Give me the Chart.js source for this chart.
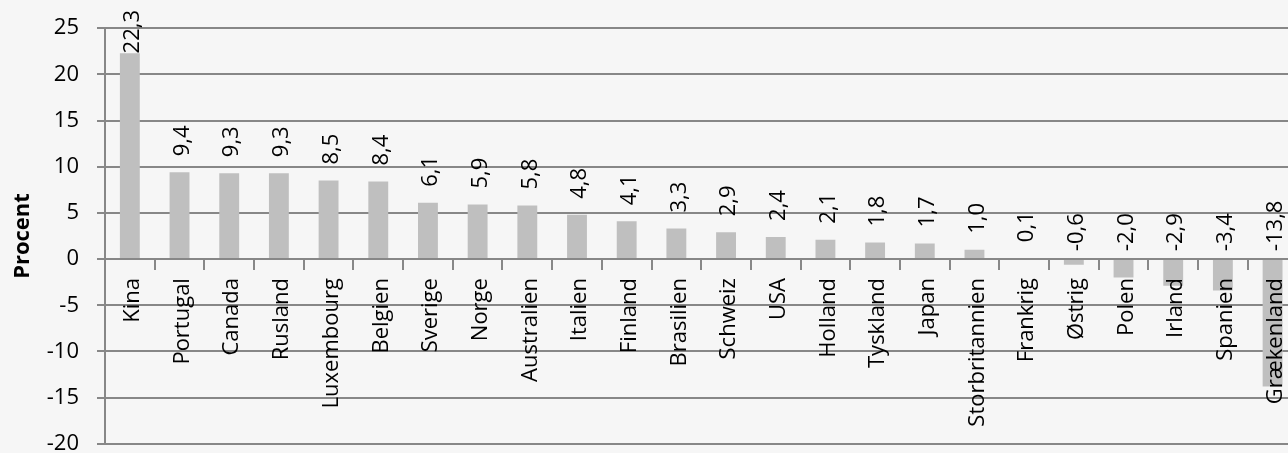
<!DOCTYPE html>
<html><head><meta charset="utf-8">
<script src="https://cdn.jsdelivr.net/npm/chart.js@4.4.0/dist/chart.umd.min.js"></script>
<style>
html,body{margin:0;padding:0;overflow:hidden;background:#f6f6f6;width:1288px;height:453px;}
#wrap{position:absolute;left:0;top:-3px;width:1308px;height:478px;}
</style></head><body>
<div id="wrap"><canvas id="c" width="1308" height="478" style="width:1308px;height:478px"></canvas></div>
<script>
const categories = ['Kina','Portugal','Canada','Rusland','Luxembourg','Belgien','Sverige','Norge','Australien','Italien','Finland','Brasilien','Schweiz','USA','Holland','Tyskland','Japan','Storbritannien','Frankrig','Østrig','Polen','Irland','Spanien','Grækenland'];
const values = [22.3, 9.4, 9.3, 9.3, 8.5, 8.4, 6.1, 5.9, 5.8, 4.8, 4.1, 3.3, 2.9, 2.4, 2.1, 1.8, 1.7, 1.0, 0.1, -0.6, -2.0, -2.9, -3.4, -13.8];
const yTickValues = [-20, -15, -10, -5, 0, 5, 10, 15, 20, 25];
const yTickLabels = ['-20', '-15', '-10', '-5', '0', '5', '10', '15', '20', '25'];
const yTitle = 'Procent';

const FONT = '"Open Sans", "Noto Sans", sans-serif';
const GRID = '#878787';

const valueLabelPlugin = {
  id: 'valueLabels',
  afterDatasetsDraw(chart) {
    const ctx = chart.ctx;
    const meta = chart.getDatasetMeta(0);
    const zero = chart.scales.y.getPixelForValue(0);
    ctx.save();
    ctx.font = '22px ' + FONT;
    ctx.fillStyle = '#000';
    ctx.textBaseline = 'middle';
    ctx.textAlign = 'left';
    meta.data.forEach((bar, i) => {
      const v = values[i];
      const txt = v.toFixed(1).replace('.', ',');
      const w = ctx.measureText(txt).width;
      let start = v >= 0 ? bar.y - 16 : zero - 8;
      if (start - w < 13) start = 13 + w;
      ctx.save();
      ctx.translate(bar.x + 3, start);
      ctx.rotate(-Math.PI / 2);
      ctx.fillText(txt, 0, 0);
      ctx.restore();
    });
    ctx.restore();
  }
};

new Chart(document.getElementById('c'), {
  type: 'bar',
  data: {
    labels: categories,
    datasets: [{
      data: values,
      backgroundColor: '#bfbfbf',
      borderWidth: 0,
      barPercentage: 0.4,
      categoryPercentage: 1.0
    }]
  },
  options: {
    responsive: false,
    animation: false,
    devicePixelRatio: 1,
    layout: { padding: { top: 26, right: 1, bottom: 26, left: 0 } },
    plugins: { legend: { display: false }, tooltip: { enabled: false } },
    scales: {
      x: {
        position: { y: 0 },
        offset: true,
        grid: { display: true, drawOnChartArea: false, drawTicks: true, tickLength: 10, color: GRID, lineWidth: 2, offset: true, z: 1 },
        border: { display: true, color: GRID, width: 2, z: 1 },
        ticks: { autoSkip: false, maxRotation: 90, minRotation: 90, padding: 9, labelOffset: 3, color: '#000', font: { family: FONT, size: 22 }, z: 1 }
      },
      y: {
        min: -20,
        max: 25,
        afterBuildTicks: s => { s.ticks = yTickValues.map(v => ({ value: v })); },
        afterFit: s => { s.width = 105; },
        grid: { color: GRID, lineWidth: 2, tickLength: 8 },
        border: { display: true, color: GRID, width: 2 },
        ticks: {
          padding: 18, color: '#000', font: { family: FONT, size: 22 },
          callback: v => yTickLabels[yTickValues.indexOf(v)]
        },
        title: { display: true, text: yTitle, color: '#000', font: { family: FONT, size: 22, weight: 'bold' }, padding: { top: 10, bottom: 0 } }
      }
    }
  },
  plugins: [valueLabelPlugin]
});
</script>
</body></html>
